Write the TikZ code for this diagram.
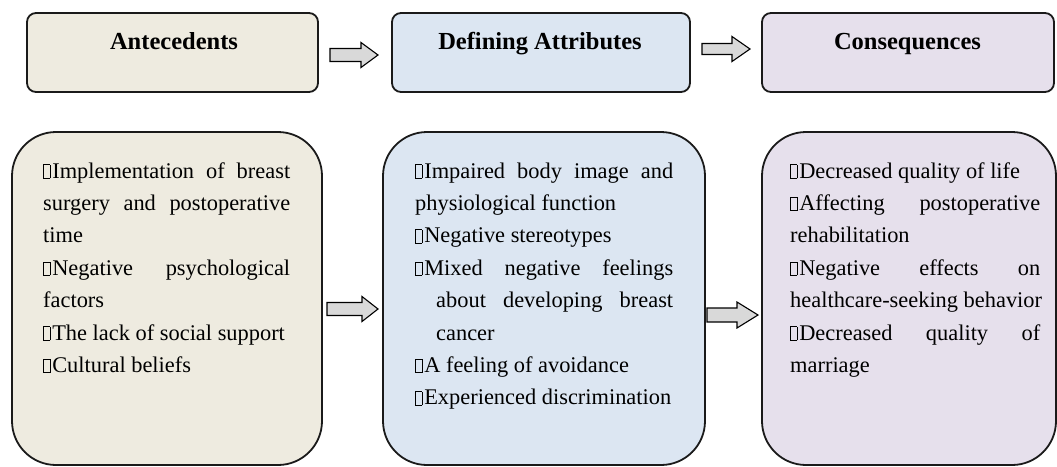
\documentclass[tikz,border=0pt]{standalone}
\usepackage{fontspec}
\setmainfont{Liberation Serif}
\definecolor{beigefill}{HTML}{EEEBE0}
\definecolor{bluefill}{HTML}{DCE6F2}
\definecolor{lavfill}{HTML}{E6E0EC}
\definecolor{arrowfill}{HTML}{D9D9D9}
\definecolor{edgecol}{HTML}{1A1A1A}
\newcommand\sqb{\begingroup\fboxsep=0pt\fboxrule=0.55pt\fbox{\rule{0pt}{13pt}\rule{6pt}{0pt}}\endgroup\hspace{2pt}}
\newcommand\myjust[1]{\makebox[\hsize][s]{#1}\par}
\newcommand\mynat[1]{\hbox{#1}\par}
\newcommand\indjust[1]{\hbox{\hspace*{21pt}\makebox[\dimexpr\hsize-21pt\relax][s]{#1}}\par}
\newcommand\indnat[1]{\hbox{\hspace*{21pt}#1}\par}
\newcommand\blockarrow[6]{\draw[blockarr] (#1,{#4-#5}) -- (#2,{#4-#5}) -- (#2,{#4-#6}) -- (#3,#4) -- (#2,{#4+#6}) -- (#2,{#4+#5}) -- (#1,{#4+#5}) -- cycle;}
\tikzset{
  topbox/.style={draw=edgecol, line width=1.8pt, rounded corners=9pt, inner sep=0pt, minimum height=79pt},
  bigbox/.style={draw=edgecol, line width=1.8pt, rounded corners=44pt, inner sep=0pt, minimum height=333pt},
  title/.style={anchor=base, inner sep=0pt, font=\fontsize{24.5}{29}\selectfont\bfseries},
  body/.style={anchor=base west, inner sep=0pt, font=\fontsize{22.4}{32.4}\selectfont},
  blockarr/.style={draw=black, line width=1.1pt, fill=arrowfill, line join=miter}
}
\begin{document}
\begin{tikzpicture}[x=1pt, y=-1pt]
\useasboundingbox (0,0) rectangle (1057,466);
% top boxes
\node[topbox, fill=beigefill, minimum width=291pt] (ant) at (172.5,52.5) {};
\node[topbox, fill=bluefill, minimum width=298pt] (def) at (541,52.5) {};
\node[topbox, fill=lavfill, minimum width=292pt] (con) at (908,52.5) {};
\node[title] (antt) at (174,49.5) {Antecedents};
\node[title] (deft) at (540,49.5) {Defining Attributes};
\node[title] (cont) at (907.5,49.5) {Consequences};
% bottom boxes
\node[bigbox, fill=beigefill, minimum width=310pt] (antb) at (167,298.5) {};
\node[bigbox, fill=bluefill, minimum width=322pt] (defb) at (544,298.5) {};
\node[bigbox, fill=lavfill, minimum width=294pt] (conb) at (909,298.5) {};
% texts
\node[body] (antx) at (43,178) {\vtop{\hsize=247pt\parindent=0pt\baselineskip=32.4pt
\myjust{\sqb Implementation of breast}
\myjust{surgery and postoperative}
\mynat{time}
\myjust{\sqb Negative psychological}
\mynat{factors}
\mynat{\sqb The lack of social support}
\mynat{\sqb Cultural beliefs}}};
\node[body] (defx) at (415,178) {\vtop{\hsize=258pt\parindent=0pt\baselineskip=32.4pt
\myjust{\sqb Impaired body image and}
\mynat{physiological function}
\mynat{\sqb Negative stereotypes}
\myjust{\sqb Mixed negative feelings}
\indjust{about developing breast}
\indnat{cancer}
\mynat{\sqb A feeling of avoidance}
\mynat{\sqb Experienced discrimination}}};
\node[body] (conx) at (790,178) {\vtop{\hsize=250pt\parindent=0pt\baselineskip=32.4pt
\mynat{\sqb Decreased quality of life}
\myjust{\sqb Affecting postoperative}
\mynat{rehabilitation}
\myjust{\sqb Negative effects on}
\mynat{healthcare-seeking behavior}
\myjust{\sqb Decreased quality of}
\mynat{marriage}}};
% block arrows
\blockarrow{330}{361}{378}{55}{6.5}{12.5}
\blockarrow{702}{732}{750}{49}{5.5}{12.5}
\blockarrow{327}{362}{378}{309}{6.5}{12.5}
\blockarrow{707}{737}{758}{315}{7}{13}
\end{tikzpicture}
\end{document}
